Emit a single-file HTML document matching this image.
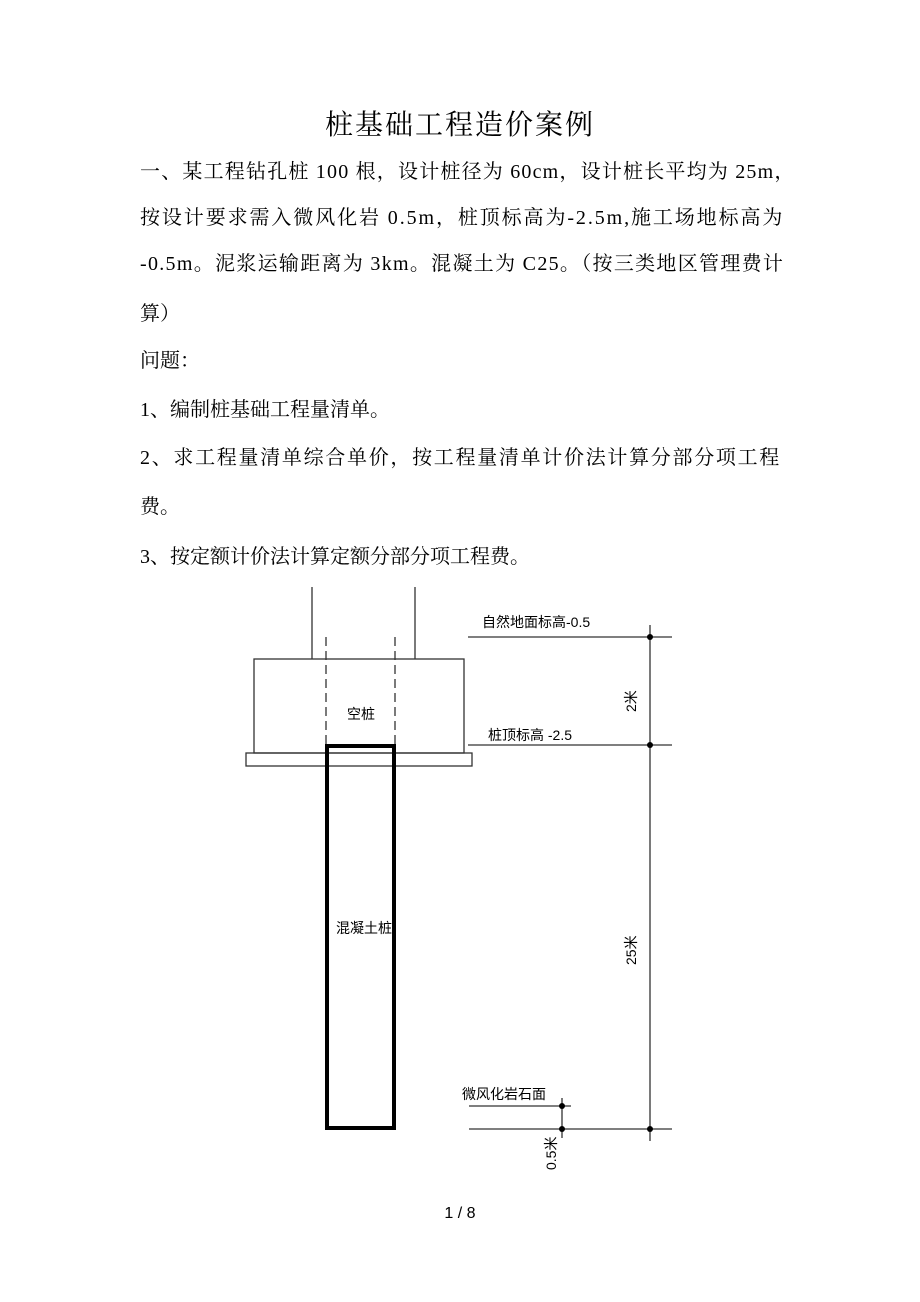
<!DOCTYPE html>
<html><head><meta charset="utf-8"><style>
body{margin:0;width:920px;height:1302px;background:#fff;position:relative;font-family:"Liberation Serif","Noto Serif CJK SC","Noto Sans CJK SC",serif;color:#000}
.t{position:absolute;left:0;width:920px;text-align:center;top:103px;font-size:28px;letter-spacing:2px}
.p{position:absolute;left:140px;font-size:20px;line-height:20px;white-space:nowrap}
.pg{position:absolute;top:1205px;left:0;width:920px;text-align:center;font-size:16px;font-family:"Liberation Sans",sans-serif}
</style></head><body>
<div class="t">桩基础工程造价案例</div>
<div class="p" style="top:162px;letter-spacing:1.2px">一、某工程钻孔桩 100 根，设计桩径为 60cm，设计桩长平均为 25m，</div>
<div class="p" style="top:208px;letter-spacing:1.9px">按设计要求需入微风化岩 0.5m，桩顶标高为-2.5m,施工场地标高为</div>
<div class="p" style="top:254px;letter-spacing:1.3px">-0.5m。泥浆运输距离为 3km。混凝土为 C25。（按三类地区管理费计</div>
<div class="p" style="top:304px">算）</div>
<div class="p" style="top:351px">问题：</div>
<div class="p" style="top:400px">1、编制桩基础工程量清单。</div>
<div class="p" style="top:448px;letter-spacing:1.7px">2、求工程量清单综合单价，按工程量清单计价法计算分部分项工程</div>
<div class="p" style="top:497px">费。</div>
<div class="p" style="top:547px">3、按定额计价法计算定额分部分项工程费。</div>
<svg style="position:absolute;left:0;top:0" width="920" height="1302" font-family="'Liberation Sans','Noto Sans CJK SC',sans-serif">
<g stroke="#333" stroke-width="1.3" fill="none">
<line x1="312" y1="587" x2="312" y2="659"/><line x1="415" y1="587" x2="415" y2="659"/>
<line x1="326" y1="637" x2="326" y2="745" stroke-dasharray="9,5"/><line x1="395" y1="637" x2="395" y2="745" stroke-dasharray="9,5"/>
<rect x="254" y="659" width="210" height="94"/>
<rect x="246" y="753" width="226" height="13"/>
<line x1="468" y1="637" x2="672" y2="637"/><line x1="468" y1="745" x2="672" y2="745"/>
<line x1="469" y1="1129" x2="672" y2="1129"/><line x1="469" y1="1106" x2="571" y2="1106"/>
<line x1="650" y1="625" x2="650" y2="1141"/><line x1="562" y1="1098" x2="562" y2="1138"/>
</g>
<rect x="327" y="746" width="67" height="382" fill="none" stroke="#000" stroke-width="4"/>
<g fill="#000"><circle cx="650" cy="637" r="3"/><circle cx="650" cy="745" r="3"/><circle cx="650" cy="1129" r="3"/><circle cx="562" cy="1106" r="3"/><circle cx="562" cy="1129" r="3"/></g>
<g font-size="14" fill="#000">
<text x="482" y="627">自然地面标高-0.5</text>
<text x="488" y="740">桩顶标高 -2.5</text>
<text x="347" y="719">空桩</text>
<text x="336" y="933">混凝土桩</text>
<text x="462" y="1099">微风化岩石面</text>
<text transform="translate(636,712) rotate(-90)">2米</text>
<text transform="translate(636,965) rotate(-90)">25米</text>
<text transform="translate(556,1170) rotate(-90)">0.5米</text>
</g>
</svg>
<div class="pg">1 / 8</div>
</body></html>
